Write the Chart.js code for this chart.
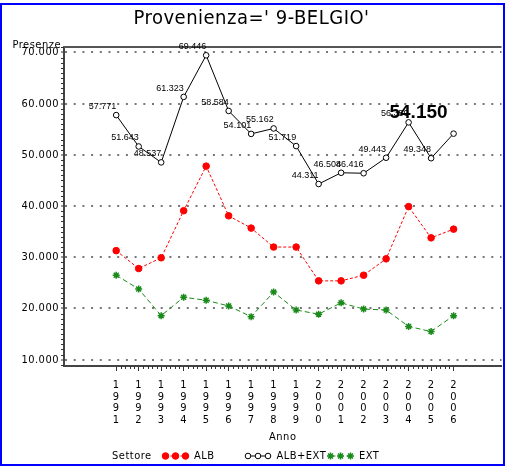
<!DOCTYPE html>
<html>
<head>
    <title>Provenienza=' 9-BELGIO'</title>
    <script src="https://cdn.jsdelivr.net/npm/chart.js@4.4.0/dist/chart.umd.min.js"></script>
    <style>
        body { margin: 0; background: #fff; }
        .chart-box { width: 507px; height: 466px; }
    </style>
</head>
<body>
    <div class="chart-box"><canvas id="presenzeChart"></canvas></div>

    <script>
        // Anni e presenze (ALB+EXT values are the printed labels)
        const years = [1991, 1992, 1993, 1994, 1995, 1996, 1997, 1998, 1999, 2000, 2001, 2002, 2003, 2004, 2005, 2006];
        const alb = [31300, 27800, 29900, 39100, 47800, 38100, 35700, 32000, 32000, 25400, 25400, 26500, 29700, 39900, 33800, 35500];
        const albExt = [57771, 51643, 48537, 61323, 69446, 58584, 54101, 55162, 51719, 44311, 46508, 46416, 49443, 56350, 49348, 54150];
        const ext = [26500, 23800, 18600, 22200, 21600, 20500, 18400, 23200, 19700, 18900, 21100, 19900, 19700, 16500, 15500, 18600];
        const yTicks = [10000, 20000, 30000, 40000, 50000, 60000, 70000];
        const seriesNames = ['ALB', 'ALB+EXT', 'EXT'];

        const NARROW = '"Liberation Sans Narrow", "DejaVu Sans Condensed", sans-serif';
        const LABEL_FONT = '"Liberation Sans", Arial, sans-serif';

        // 57771 -> "57.771"
        function fmt(v) {
            const k = Math.floor(v / 1000);
            return k + '.' + String(Math.round(v % 1000)).padStart(3, '0');
        }
        const pts = arr => arr.map((v, i) => ({ x: years[i], y: v }));

        const sasExtras = {
            id: 'sasExtras',
            beforeDraw(chart) {
                chart.ctx.letterSpacing = '0.5px';
            },
            afterDraw(chart) {
                const ctx = chart.ctx;
                const area = chart.chartArea;
                const xs = chart.scales.x, ys = chart.scales.y;
                ctx.save();

                // top frame line
                ctx.strokeStyle = '#555';
                ctx.lineWidth = 2;
                ctx.beginPath();
                ctx.moveTo(area.left - 1, area.top);
                ctx.lineTo(area.right, area.top);
                ctx.stroke();

                // minor ticks
                ctx.strokeStyle = '#333';
                ctx.lineWidth = 1;
                ctx.beginPath();
                for (let v = Math.ceil(ys.min / 1000) * 1000; v <= ys.max; v += 1000) {
                    if (v % 10000 === 0) continue;
                    const y = Math.round(ys.getPixelForValue(v)) + 0.5;
                    ctx.moveTo(area.left - 3, y);
                    ctx.lineTo(area.left, y);
                }
                for (let i = 0; i < (years.length - 1) * 5; i++) {
                    if (i % 5 === 0) continue;
                    const x = Math.round(xs.getPixelForValue(years[0] + i / 5)) + 0.5;
                    ctx.moveTo(x, area.bottom);
                    ctx.lineTo(x, area.bottom + 3);
                }
                ctx.stroke();

                // value labels on ALB+EXT
                ctx.letterSpacing = '0px';
                ctx.fillStyle = '#000';
                ctx.textAlign = 'right';
                ctx.textBaseline = 'bottom';
                const meta = chart.getDatasetMeta(1);
                const last = albExt.length - 1;
                ctx.font = '9px ' + LABEL_FONT;
                meta.data.forEach((p, i) => {
                    if (i === last) return;
                    ctx.fillText(fmt(albExt[i]), p.x, p.y - 4);
                });
                const pl = meta.data[last];
                ctx.font = 'bold 19px ' + LABEL_FONT;
                ctx.fillText(fmt(albExt[last]), pl.x - 6, pl.y - 11);

                // y axis label
                ctx.letterSpacing = '0.5px';
                ctx.font = '11px ' + NARROW;
                ctx.textBaseline = 'middle';
                ctx.fillText('Presenze', 61, 45);

                // legend
                const ly = 456;
                ctx.textAlign = 'left';
                ctx.fillText('Settore', 112, ly);
                chart.data.datasets.forEach((ds, i) => {
                    const sx = 163 + 82.5 * i;
                    ctx.save();
                    ctx.letterSpacing = '0px';
                    ctx.strokeStyle = ds.borderColor;
                    ctx.lineWidth = ds.borderWidth;
                    ctx.setLineDash(ds.borderDash || []);
                    ctx.beginPath();
                    ctx.moveTo(sx + 2.5, ly);
                    ctx.lineTo(sx + 22.5, ly);
                    ctx.stroke();
                    ctx.setLineDash([]);
                    ctx.fillStyle = ds.pointBackgroundColor;
                    ctx.strokeStyle = ds.pointBorderColor;
                    ctx.lineWidth = ds.pointBorderWidth;
                    [2.5, 12.5, 22.5].forEach(dx => {
                        Chart.helpers.drawPoint(ctx, {
                            pointStyle: ds.pointStyle, radius: ds.pointRadius,
                            borderWidth: ds.pointBorderWidth, rotation: 0
                        }, sx + dx, ly);
                    });
                    ctx.restore();
                    ctx.fillStyle = '#000';
                    ctx.fillText(ds.label, sx + 31, ly);
                });

                // blue frame round the picture
                ctx.fillStyle = '#0000ff';
                ctx.fillRect(0, 3, 2, 463);
                ctx.fillRect(0, 3, 505, 2);
                ctx.fillRect(503, 3, 2, 463);
                ctx.fillRect(0, 464, 505, 2);
                ctx.restore();
            }
        };

        new Chart(document.getElementById('presenzeChart'), {
            type: 'line',
            data: {
                datasets: [
                    {
                        label: seriesNames[0],
                        data: pts(alb),
                        borderColor: '#ff0000',
                        backgroundColor: '#ff0000',
                        borderWidth: 1,
                        borderDash: [3, 2],
                        pointStyle: 'circle',
                        pointRadius: 3.3,
                        pointBackgroundColor: '#ff0000',
                        pointBorderColor: '#ff0000',
                        pointBorderWidth: 1,
                        fill: false
                    },
                    {
                        label: seriesNames[1],
                        data: pts(albExt),
                        borderColor: '#000000',
                        backgroundColor: '#ffffff',
                        borderWidth: 1,
                        pointStyle: 'circle',
                        pointRadius: 2.8,
                        pointBackgroundColor: '#ffffff',
                        pointBorderColor: '#000000',
                        pointBorderWidth: 1,
                        fill: false
                    },
                    {
                        label: seriesNames[2],
                        data: pts(ext),
                        borderColor: '#1a8a1a',
                        backgroundColor: '#1a8a1a',
                        borderWidth: 1,
                        borderDash: [5, 3],
                        pointStyle: 'star',
                        pointRadius: 3.5,
                        pointBackgroundColor: '#1a8a1a',
                        pointBorderColor: '#1a8a1a',
                        pointBorderWidth: 1.5,
                        fill: false
                    }
                ]
            },
            options: {
                responsive: true,
                maintainAspectRatio: false,
                animation: false,
                layout: { padding: { top: 0, left: 0, right: 4, bottom: 20 } },
                scales: {
                    x: {
                        type: 'linear',
                        min: 1988.68,
                        max: 2008.13,
                        afterBuildTicks: s => { s.ticks = years.map(v => ({ value: v })); },
                        afterFit: s => { s.height = 80; },
                        ticks: {
                            autoSkip: false,
                            maxRotation: 0,
                            padding: 8,
                            color: '#000',
                            font: { family: NARROW, size: 11, lineHeight: 1.07 },
                            callback: v => String(v).split('')
                        },
                        grid: { drawOnChartArea: false, drawTicks: true, tickLength: 5, tickColor: '#333', tickWidth: 1 },
                        border: { color: '#444', width: 2 },
                        title: {
                            display: true,
                            text: 'Anno',
                            color: '#000',
                            font: { family: NARROW, size: 11 },
                            padding: { top: 0, bottom: 2 }
                        }
                    },
                    y: {
                        min: 8770,
                        max: 71070,
                        afterBuildTicks: s => { s.ticks = yTicks.map(v => ({ value: v })); },
                        afterFit: s => { s.width = 64; },
                        ticks: {
                            padding: 2,
                            color: '#000',
                            font: { family: NARROW, size: 11 },
                            callback: v => fmt(v)
                        },
                        grid: { color: '#777', lineWidth: 2, tickLength: 3, tickColor: '#333', tickWidth: 1 },
                        border: { color: '#444', width: 2, dash: [2, 6.7] }
                    }
                },
                plugins: {
                    legend: { display: false },
                    tooltip: { enabled: false },
                    title: {
                        display: true,
                        text: "Provenienza=' 9-BELGIO'",
                        color: '#000',
                        font: { family: NARROW, size: 20, weight: 'normal', lineHeight: 1 },
                        padding: { top: 9, bottom: 18 }
                    }
                }
            },
            plugins: [sasExtras]
        });
    </script>
</body>
</html>
